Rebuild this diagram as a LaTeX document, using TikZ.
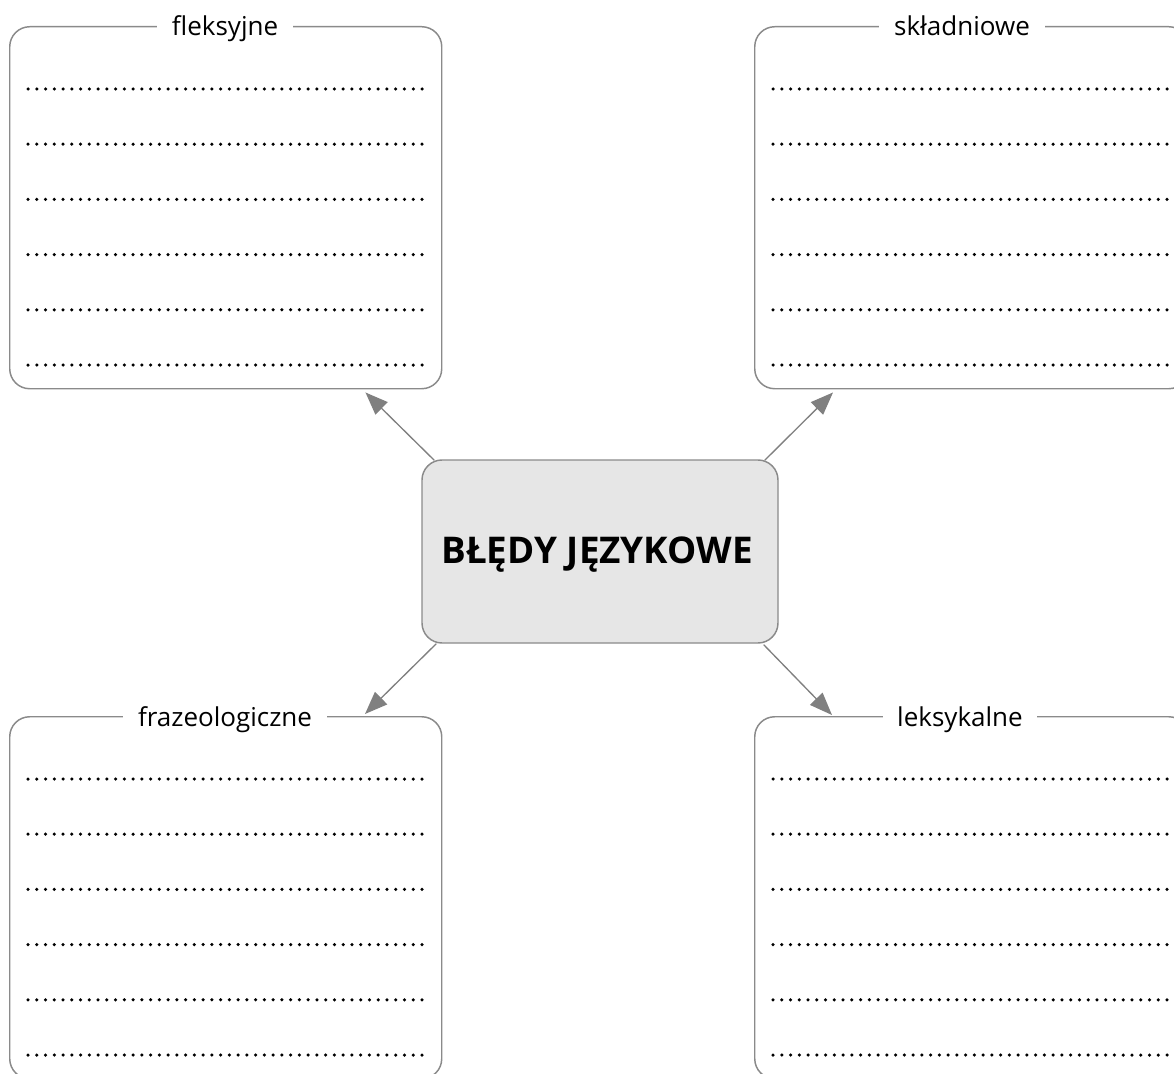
\documentclass[tikz,border=0pt]{standalone}
\usepackage{fontspec}
\setmainfont{Open Sans}
\usetikzlibrary{calc,arrows.meta}
\definecolor{edgegray}{HTML}{8A8A8A}
\definecolor{arrgray}{HTML}{808080}
\definecolor{boxfill}{HTML}{E6E6E6}
\begin{document}
\begin{tikzpicture}[x=0.75pt,y=-0.75pt,
  box/.style={draw=edgegray,line width=1.1pt,rounded corners=15pt,inner sep=0pt,anchor=north west,
    minimum width=324pt,minimum height=271.5pt},
  centerbox/.style={draw=edgegray,line width=1.1pt,rounded corners=15pt,fill=boxfill,inner sep=0pt,
    minimum width=267pt,minimum height=137.25pt},
  label/.style={fill=white,inner xsep=11pt,inner ysep=2pt,anchor=base,
    font=\fontsize{19.5pt}{23pt}\selectfont},
  title/.style={anchor=base,font=\fontsize{27.6pt}{32pt}\selectfont\bfseries},
  dotfill/.style={fill=black},
  arr/.style={draw=arrgray,line width=1pt,-{Triangle[length=17pt,width=13pt]},fill=arrgray}
]
\useasboundingbox (0,0) rectangle (1174,1074);
\clip (0,0) rectangle (1174,1074);

% boxes
\node[box] (fl) at (9,26) {};
\node[box,minimum width=325.5pt] (sk) at (754,26) {};
\node[box] (fr) at (9,716) {};
\node[box,minimum width=325.5pt] (le) at (754,716) {};

% dotted lines
\foreach \k in {0,...,5}{
  \foreach \i in {0,...,45}{
    \fill[dotfill] ($(fl.north west)+({19+8.7556*\i},{63+55.2*\k})$) circle[radius=1.75];
    \fill[dotfill] ($(fr.north west)+({19+8.7556*\i},{63+55.2*\k})$) circle[radius=1.75];
    \fill[dotfill] ($(sk.north west)+({19+8.7556*\i},{63+55.2*\k})$) circle[radius=1.75];
    \fill[dotfill] ($(le.north west)+({19+8.7556*\i},{63+55.2*\k})$) circle[radius=1.75];
  }
}

% labels
\node[label] (lfl) at (225,36) {fleksyjne};
\node[label] (lsk) at (962,36) {składniowe};
\node[label] (lfr) at (225,726) {frazeologiczne};
\node[label] (lle) at (960,726) {leksykalne};

% center
\node[centerbox] (c) at (600,551.5) {};
\node[title] (t) at (597,563) {BŁĘDY JĘZYKOWE};

% arrows
\draw[arr] ($(c.north west)+(13,1)$) -- ($(fl.south east)+(-77,3)$);
\draw[arr] ($(c.north east)+(-14,1)$) -- ($(sk.south west)+(79,3)$);
\draw[arr] ($(c.south west)+(15,0)$) -- ($(fr.north west)+(356,-2)$);
\draw[arr] ($(c.south east)+(-15,1)$) -- ($(le.north west)+(78,-1)$);
\end{tikzpicture}
\end{document}
